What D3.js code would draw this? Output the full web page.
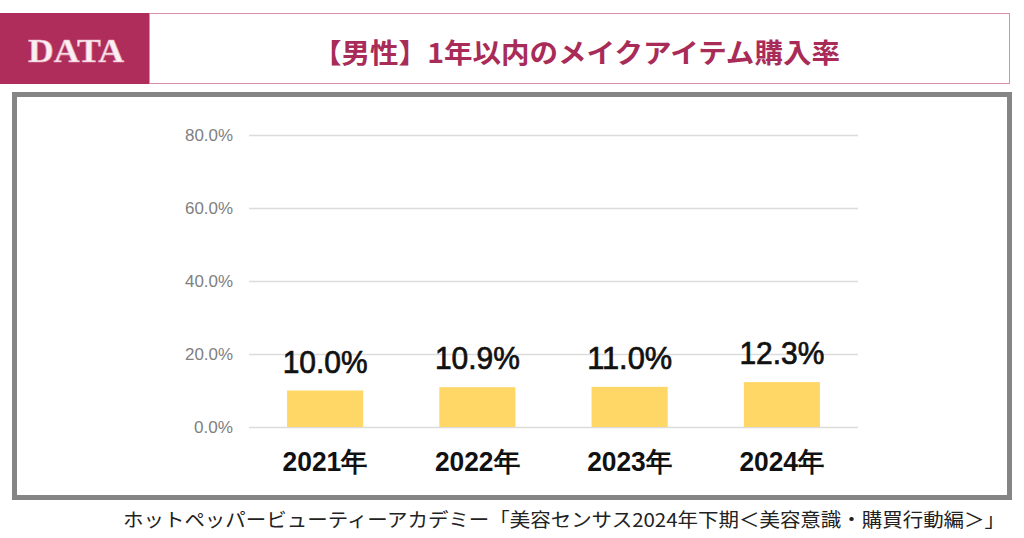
<!DOCTYPE html>
<html><head><meta charset="utf-8">
<script src="https://cdn.jsdelivr.net/npm/d3@7"></script>
<style>html,body{margin:0;padding:0;background:#fff;}svg{display:block;}</style>
</head><body>
<script>
const categories = ["2021年","2022年","2023年","2024年"];
const values = [0.100, 0.109, 0.110, 0.123];
const valueLabels = ["10.0%","10.9%","11.0%","12.3%"];
const yTicks = [0, 0.2, 0.4, 0.6, 0.8];
const titleText = "【男性】1年以内のメイクアイテム購入率";
const badgeText = "DATA";
const sourceText = "ホットペッパービューティーアカデミー「美容センサス2024年下期＜美容意識・購買行動編＞」";

const W = 1024, H = 538;
const svg = d3.select("body").append("svg").attr("width", W).attr("height", H);
const jp = "'Noto Sans CJK JP', 'Noto Sans', sans-serif";
const sans = "'Liberation Sans', Arial, sans-serif";

// header
svg.append("rect").attr("x", 0).attr("y", 13).attr("width", 149).attr("height", 71).attr("fill", "#AE2D5A");
svg.append("rect").attr("x", 149.5).attr("y", 13.5).attr("width", 860).attr("height", 70)
  .attr("fill", "#fff").attr("stroke", "#D98FAC").attr("stroke-width", 1);
svg.append("text").attr("x", 76).attr("y", 62).attr("text-anchor", "middle")
  .attr("font-family", "'Liberation Serif', 'DejaVu Serif', serif").attr("font-weight", "bold")
  .attr("font-size", 33).attr("fill", "#FBEFF3").attr("stroke", "#E6A9BE").attr("stroke-width", 0.6)
  .attr("textLength", 96).attr("lengthAdjust", "spacingAndGlyphs").text(badgeText);
svg.append("text").attr("x", 313).attr("y", 63)
  .attr("font-family", jp).attr("font-weight", "bold").attr("font-size", 27).attr("fill", "#A92C58")
  .attr("textLength", 527).attr("lengthAdjust", "spacingAndGlyphs").text(titleText);

// frame
svg.append("rect").attr("x", 14.5).attr("y", 94.5).attr("width", 995).attr("height", 403)
  .attr("fill", "#fff").attr("stroke", "#858585").attr("stroke-width", 5);

// scales
const x = d3.scaleBand().domain(categories).range([249, 858]).paddingInner(0.5).paddingOuter(0.25);
const y = d3.scaleLinear().domain([0, 0.8]).range([427, 135]);

// grid
const yAxis = d3.axisLeft(y).tickValues(yTicks).tickFormat(d3.format(".1%")).tickSize(-(858 - 249)).tickPadding(16);
const gy = svg.append("g").attr("transform", "translate(249,0)").call(yAxis);
gy.select(".domain").remove();
gy.selectAll(".tick line").attr("stroke", "#DCDCDC").attr("stroke-width", 1.5);
gy.selectAll(".tick text").attr("font-family", sans).attr("font-size", 17).attr("fill", "#808080")
  .attr("textLength", 48).attr("lengthAdjust", "spacingAndGlyphs")
  .filter(d => d === 0).attr("textLength", 39);

// bars
svg.append("g").selectAll("rect").data(values).join("rect")
  .attr("x", (d, i) => x(categories[i]))
  .attr("y", d => y(d))
  .attr("width", x.bandwidth())
  .attr("height", d => y(0) - y(d))
  .attr("fill", "#FED766");

// value labels
svg.append("g").selectAll("text").data(values).join("text")
  .attr("x", (d, i) => x(categories[i]) + x.bandwidth() / 2)
  .attr("y", d => y(d) - 18)
  .attr("text-anchor", "middle")
  .attr("font-family", sans).attr("font-size", 31).attr("fill", "#111")
  .attr("stroke", "#111").attr("stroke-width", 0.7)
  .attr("textLength", 85).attr("lengthAdjust", "spacingAndGlyphs")
  .text((d, i) => valueLabels[i]);

// category labels
const xAxis = d3.axisBottom(x).tickSize(0).tickPadding(0);
const gx = svg.append("g").attr("transform", "translate(0,427)").call(xAxis);
gx.select(".domain").remove();
gx.selectAll(".tick text").attr("dy", 0).attr("y", 44)
  .attr("font-family", sans).attr("font-weight", "bold").attr("font-size", 27).attr("fill", "#111")
  .attr("textLength", 85).attr("lengthAdjust", "spacingAndGlyphs");

// source
svg.append("text").attr("x", 1005).attr("y", 527).attr("text-anchor", "end")
  .attr("font-family", jp).attr("font-size", 19).attr("fill", "#222")
  .attr("textLength", 882).attr("lengthAdjust", "spacingAndGlyphs").text(sourceText);
</script>
</body></html>
